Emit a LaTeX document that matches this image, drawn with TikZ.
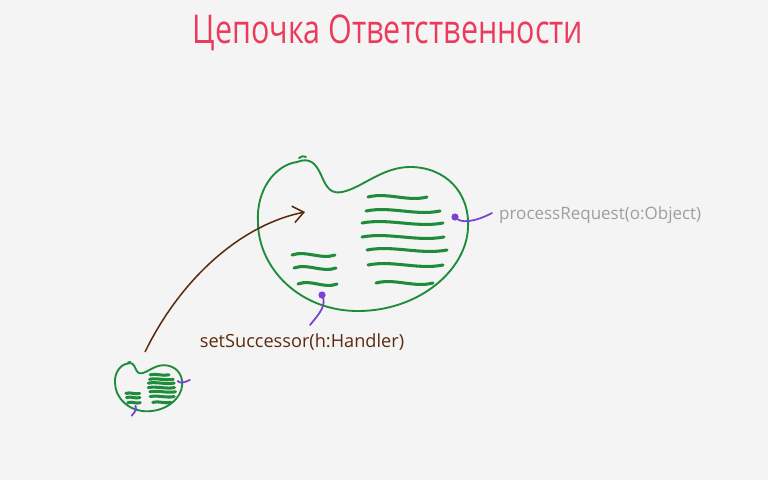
\documentclass[tikz,border=0pt]{standalone}
\usepackage{fontspec}
\setmainfont{Open Sans}
\usetikzlibrary{arrows.meta}
\definecolor{bgc}{HTML}{F4F4F4}
\definecolor{ttl}{HTML}{EC3A5C}
\definecolor{grn}{HTML}{1E8C3A}
\definecolor{prp}{HTML}{7B40D4}
\definecolor{brn}{HTML}{5C2A0E}
\definecolor{gry}{HTML}{9E9E9E}
\tikzset{
  blobline/.style={draw=grn, line width=1.6pt, line cap=round, line join=round},
  wave/.style={draw=grn, line width=2.6pt, line cap=round},
  pline/.style={draw=prp, line width=1.5pt, line cap=round},
  pdot/.style={fill=prp},
  arr/.style={draw=brn, line width=1.3pt, -{Straight Barb[length=3.2mm,width=5mm,line width=1.3pt]}},
  lbl/.style={inner sep=0pt},
}
\newcommand\wv[3]{\draw[wave] (#1,#3) .. controls ({#1+(#2-#1)/3},{#3-5}) and ({#1+2*(#2-#1)/3},{#3+5}) .. (#2,#3);}
\newcommand\blobbody{%
  \draw[blobline] (297,162) .. controls (310,157) and (316,163) .. (322,177)
    .. controls (327,189) and (332,194) .. (342,192)
    .. controls (362,188) and (382,167) .. (410,167)
    .. controls (445,167) and (470,192) .. (468,228)
    .. controls (466,270) and (420,310) .. (360,311)
    .. controls (300,312) and (258,268) .. (258,222)
    .. controls (256,190) and (275,165) .. (297,162);
  \draw[blobline] (299,158) .. controls (302,156) .. (306,157);
  \wv{368}{427}{197}
  \wv{366}{440}{211}
  \wv{362}{443}{223}
  \wv{362}{444}{237}
  \wv{367}{447}{250}
  \wv{368}{443}{265}
  \wv{376}{433}{283}
  \wv{292}{335}{255}
  \wv{294}{336}{268}
  \wv{298}{337}{284}
  \fill[pdot] (455,217) circle (3.6);
  \draw[pline] (455,217) .. controls (460,224) and (475,222) .. (492,213);
  \fill[pdot] (322,295) circle (3.6);
  \draw[pline] (322,295) .. controls (327,305) and (320,313) .. (310,325);
}
\begin{document}
\begin{tikzpicture}[x=0.03cm,y=-0.03cm]
\fill[bgc] (0,0) rectangle (768,480);
\useasboundingbox (0,0) rectangle (768,480);
\node[text=ttl, inner sep=0pt, font=\fontsize{26}{30}\selectfont] (title) at (388,33) {\scalebox{1}[1.3]{Цепочка Ответственности}};
\blobbody
\begin{scope}[shift={(32.44,311.76)}, scale=0.32]
\blobbody
\end{scope}
\coordinate (arrS) at (145,352);
\coordinate (arrE) at (305,212);
\draw[arr] (arrS) .. controls (180,280) and (240,225) .. (arrE);
\node[lbl, text=gry, anchor=west, font=\fontsize{14.5}{17}\selectfont] (pr) at (499,215) {processRequest(o:Object)};
\node[lbl, text=brn, font=\fontsize{15.5}{18}\selectfont] (ss) at (302,342) {setSuccessor(h:Handler)};
\end{tikzpicture}
\end{document}
